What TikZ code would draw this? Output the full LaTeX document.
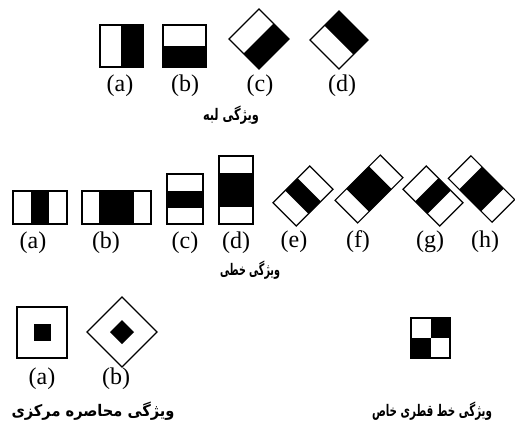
\documentclass[tikz,border=0pt]{standalone}
\usepackage{fontspec}
\usepackage{graphicx}
\setmainfont{Liberation Serif}
\newfontfamily\arabicfont[Script=Arabic]{DejaVu Sans}
\TeXXeTstate=1
\begin{document}
\begin{tikzpicture}[x=1pt,y=-1pt,
  fr/.style={draw=black,line width=1.2pt,line join=miter},
  blk/.style={fill=black},
  lbl/.style={inner sep=0pt,font=\fontsize{24}{24}\selectfont},
  captxt/.style={inner sep=0pt,font=\arabicfont\bfseries\fontsize{16}{16}\selectfont}]
\useasboundingbox (0,0) rectangle (515,424);
% ---------- row 1 : edge features ----------
\fill[blk] (121.5,25) rectangle (143,67);
\draw[fr] (100,25) rectangle (143,67);
\draw[fr] (121.5,25) -- (121.5,67);
\fill[blk] (163,46) rectangle (206,67);
\draw[fr] (163,25) rectangle (206,67);
% (c)
\fill[blk] (274,24) -- (289,39) -- (259,69) -- (244,54) -- cycle;
\draw[fr] (229,39) -- (259,9) -- (289,39) -- (259,69) -- cycle;
\draw[fr] (244,54) -- (274,24);
% (d)
\fill[blk] (339,11) -- (368,40) -- (353.5,54.5) -- (324.5,25.5) -- cycle;
\draw[fr] (310,40) -- (339,11) -- (368,40) -- (339,69) -- cycle;
\node[lbl] (l1a) at (120,86) {(a)};
\node[lbl] (l1b) at (185,86) {(b)};
\node[lbl] (l1c) at (260,86) {(c)};
\node[lbl] (l1d) at (342,86) {(d)};
\node[captxt] (cap1) at (231,115) {\resizebox{56pt}{\height}{\beginR ویژگی لبه\endR}};
% ---------- row 2 : line features ----------
\fill[blk] (31,191) rectangle (49,224);
\draw[fr] (13,191) rectangle (67,224);
\fill[blk] (99,191) rectangle (134,224);
\draw[fr] (82,191) rectangle (151,224);
\fill[blk] (167,191) rectangle (203,208);
\draw[fr] (167,174) rectangle (203,224);
\fill[blk] (219,173) rectangle (253,207);
\draw[fr] (219,156) rectangle (253,224);
% (e)
\begin{scope}[shift={(303,196)},rotate=45]
  \fill[blk] (-8.7,-16.5) rectangle (8.7,16.5);
  \draw[fr] (-26,-16.5) rectangle (26,16.5);
\end{scope}
% (f)
\begin{scope}[shift={(369,189)},rotate=45]
  \fill[blk] (-16,-16) rectangle (16,16);
  \draw[fr] (-32,-16) rectangle (32,16);
\end{scope}
% (g)
\begin{scope}[shift={(433,196)},rotate=-45]
  \fill[blk] (-8.7,-16.5) rectangle (8.7,16.5);
  \draw[fr] (-26,-16.5) rectangle (26,16.5);
\end{scope}
% (h)
\begin{scope}[shift={(481.5,189)},rotate=-45]
  \fill[blk] (-15.5,-16) rectangle (15.5,16);
  \draw[fr] (-31,-16) rectangle (31,16);
\end{scope}
\node[lbl] (l2a) at (33,243) {(a)};
\node[lbl] (l2b) at (106,243) {(b)};
\node[lbl] (l2c) at (185,243) {(c)};
\node[lbl] (l2d) at (236,243) {(d)};
\node[lbl] (l2e) at (294,242) {(e)};
\node[lbl] (l2f) at (358,242) {(f)};
\node[lbl] (l2g) at (430,242) {(g)};
\node[lbl] (l2h) at (485,242) {(h)};
\node[captxt] (cap2) at (250,270) {\resizebox{60pt}{\height}{\beginR ویژگی خطی\endR}};
% ---------- row 3 ----------
\draw[fr] (17,307) rectangle (67,358);
\fill[blk] (33.5,324) rectangle (50.5,341);
\draw[fr] (87,332) -- (122,297) -- (157,332) -- (122,367) -- cycle;
\fill[blk] (110,332) -- (122,320) -- (134,332) -- (122,344) -- cycle;
\node[lbl] (l3a) at (42,379) {(a)};
\node[lbl] (l3b) at (116,379) {(b)};
\node[captxt] (cap3) at (93,411) {\resizebox{163pt}{\height}{\beginR ویژگی محاصره مرکزی\endR}};
% checker
\fill[blk] (430.5,318) rectangle (450,338);
\fill[blk] (411,338) rectangle (430.5,358);
\draw[fr] (411,318) rectangle (450,358);
\node[captxt] (cap4) at (432,411) {\resizebox{120pt}{\height}{\beginR ویژگی خط قطری خاص\endR}};
\end{tikzpicture}
\end{document}
